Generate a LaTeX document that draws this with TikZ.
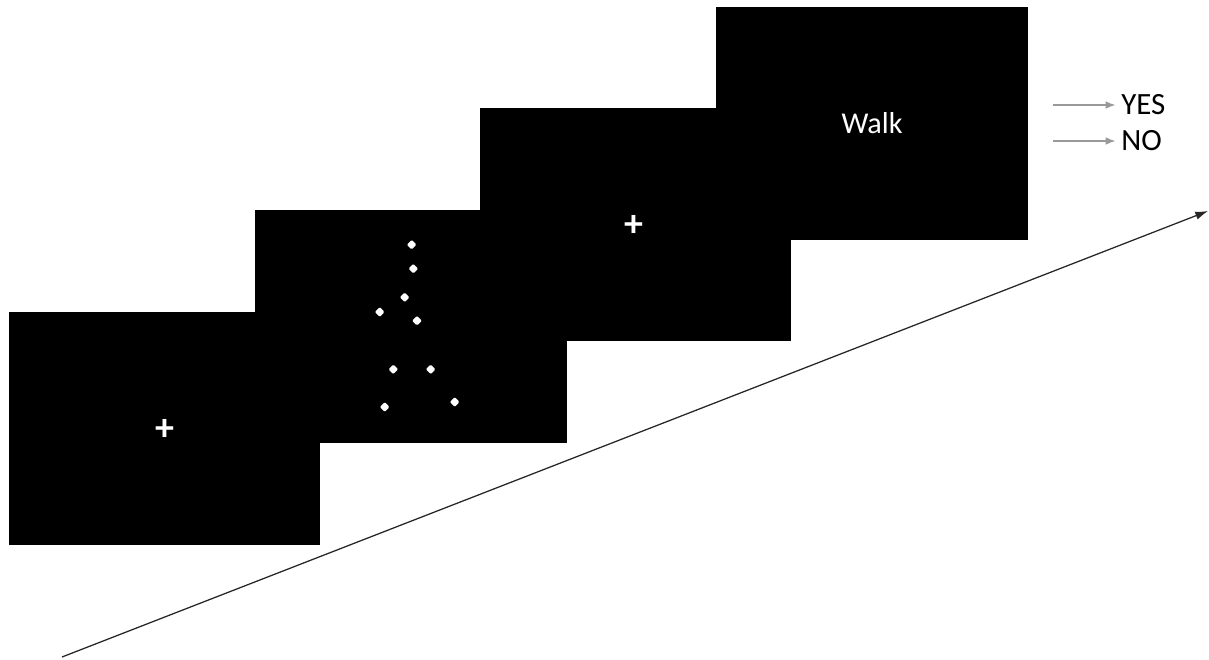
\documentclass[tikz,border=0pt]{standalone}
\usepackage{fontspec}
\setmainfont{Carlito}
\usetikzlibrary{arrows.meta,shapes.geometric}

\begin{document}
\begin{tikzpicture}[
          x=0.025cm, y=-0.025cm,
          >={Latex[length=9pt,width=6pt]},
          screen/.style={rectangle, fill=black, draw=none, inner sep=0pt,
              minimum width=7.775cm, minimum height=5.8cm,
              text=white, font=\fontsize{21.5}{24}\selectfont},
          fixcross/.style={font=\fontsize{27}{27}\selectfont\bfseries},
          dot/.style={diamond, fill=white, draw=none, inner sep=0pt,
              minimum size=7pt, rounded corners=0.8pt},
          answer/.style={->, gray!80, line width=0.8pt,
              >={Latex[length=7pt,width=5.5pt]}},
          ans/.style={anchor=west, inner sep=0pt, font=\fontsize{22}{24}\selectfont},
          timeline/.style={->, line width=0.9pt, black!85}
      ]
      \useasboundingbox (0,0) rectangle (1209,659);
      % four screens, stacked from lower left to upper right
      \node[screen] (fix1)  at (164.5,428.5) {};
      \node[screen] (pld)   at (411,326.5)   {};
      \node[screen] (fix2)  at (635.5,224.5) {};
      \node[screen] (verb)  at (872,123.5)   {Walk};
      \node[text=white, fixcross] (cross1) at (165,430) {+};
      \node[text=white, fixcross] (cross2) at (634,226) {+};
      % point-light walker
      \foreach \px/\py [count=\i] in {411.7/244.7, 413.3/268.7, 404.7/297.3,
          379.7/312, 417/320.7, 393.3/369.3, 430.7/369.3, 384.7/407, 454.7/402}
        \node[dot] (pt\i) at (\px,\py) {};
      % responses
      \coordinate (yesfrom) at (1053,105);
      \coordinate (nofrom)  at (1053,141);
      \node[ans] (yes) at (1121,105) {YES};
      \node[ans] (no)  at (1121,141) {NO};
      \draw[answer] (yesfrom) -- ([xshift=-4pt]yes.west);
      \draw[answer] (nofrom) -- ([xshift=-4pt]no.west);
      % time axis
      \coordinate (tstart) at (62,657);
      \coordinate (tend)   at (1208,211);
      \draw[timeline] (tstart) -- (tend);
      \end{tikzpicture}
\end{document}
